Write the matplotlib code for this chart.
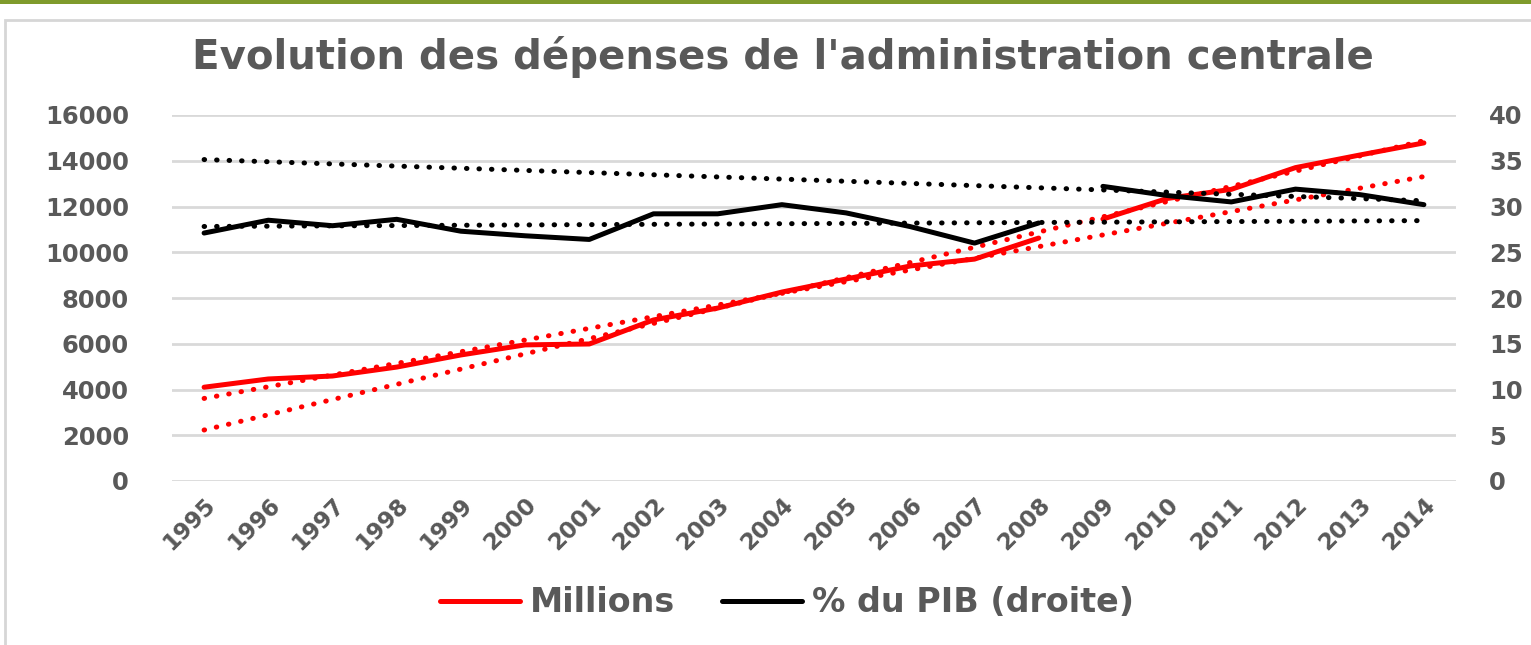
import numpy as np
import matplotlib.pyplot as plt
from matplotlib.patches import Rectangle

# Données
annees_1 = [1995, 1996, 1997, 1998, 1999, 2000, 2001, 2002, 2003, 2004, 2005, 2006, 2007, 2008]
annees_2 = [2009, 2010, 2011, 2012, 2013, 2014]
millions_1 = [4100, 4460, 4590, 4980, 5510, 5950, 5990, 7040, 7560, 8260, 8830, 9400, 9700, 10620]
millions_2 = [11450, 12350, 12750, 13700, 14250, 14780]
pib_1 = [27.1, 28.5, 27.9, 28.6, 27.3, 26.8, 26.4, 29.2, 29.2, 30.2, 29.3, 27.8, 26.0, 28.2]
pib_2 = [32.2, 31.2, 30.5, 31.9, 31.3, 30.2]
annees = annees_1 + annees_2

gris = '#595959'
W, H = 1531, 645

fig = plt.figure(figsize=(W / 100, H / 100), dpi=100)
fig.patch.set_facecolor('white')
# bandeau vert en haut + cadre gris
fig.add_artist(Rectangle((0, 1 - 4 / H), 1, 4 / H, transform=fig.transFigure, color='#7f9b2c', lw=0))
fig.add_artist(Rectangle((5 / W, -0.01), 1, 1 - 14 / H, transform=fig.transFigure,
                         fill=False, edgecolor='#d6d6d6', lw=2))

ax = fig.add_axes([172 / W, 1 - 481 / H, (1456 - 172) / W, (481 - 115) / H])
ax2 = ax.twinx()

x = np.arange(len(annees))
x1 = x[:len(annees_1)]
x2 = x[len(annees_1):]

ax.set_xlim(-0.5, len(annees) - 0.5)
ax.set_ylim(0, 16000)
ax2.set_ylim(0, 40)
ax.set_yticks(np.arange(0, 16001, 2000))
ax2.set_yticks(np.arange(0, 41, 5))
ax.grid(axis='y', color='#d9d9d9', linewidth=2)
ax.set_axisbelow(True)

for a in (ax, ax2):
    for s in a.spines.values():
        s.set_visible(False)
    a.tick_params(length=0)

ax.tick_params(axis='y', pad=31, labelsize=17.5, labelcolor=gris)
ax2.tick_params(axis='y', pad=24, labelsize=17.5, labelcolor=gris)
ax.set_xticks(x)
ax.set_xticklabels([str(a) for a in annees], rotation=45, ha='right', rotation_mode='anchor',
                   fontsize=16.5, color=gris, fontweight='bold')
ax.tick_params(axis='x', pad=9)
for lab in ax.get_yticklabels() + ax2.get_yticklabels():
    lab.set_fontweight('bold')

lw = 3.6
pointille = (0, (0.1, 2.4))

# tendances linéaires de chaque segment, prolongées sur toute la période
def tendance(xs, ys):
    p = np.polyfit(xs, ys, 1)
    return np.polyval(p, x)

for a, xs, ys, c in [(ax, x1, millions_1, 'red'), (ax, x2, millions_2, 'red'),
                     (ax2, x1, pib_1, 'black'), (ax2, x2, pib_2, 'black')]:
    a.plot(x, tendance(xs, ys), color=c, lw=lw, linestyle=pointille, dash_capstyle='round')

l1, = ax.plot(x1, millions_1, color='red', lw=lw, solid_capstyle='round', label='Millions')
ax.plot(x2, millions_2, color='red', lw=lw, solid_capstyle='round')
l2, = ax2.plot(x1, pib_1, color='black', lw=lw, solid_capstyle='round', label='% du PIB (droite)')
ax2.plot(x2, pib_2, color='black', lw=lw, solid_capstyle='round')

fig.text(783 / W, 1 - 57 / H, "Evolution des dépenses de l'administration centrale",
         ha='center', va='center', fontsize=29, fontweight='bold', color=gris)

leg = fig.legend([l1, l2], ['Millions', '% du PIB (droite)'], loc='center',
                 bbox_to_anchor=(787 / W, 1 - 603 / H), ncol=2, frameon=False,
                 handlelength=2.4, handletextpad=0.3, columnspacing=1.4,
                 prop={'size': 24, 'weight': 'bold'})
for t in leg.get_texts():
    t.set_color(gris)

fig.savefig('out.png', dpi=100, facecolor='white')
